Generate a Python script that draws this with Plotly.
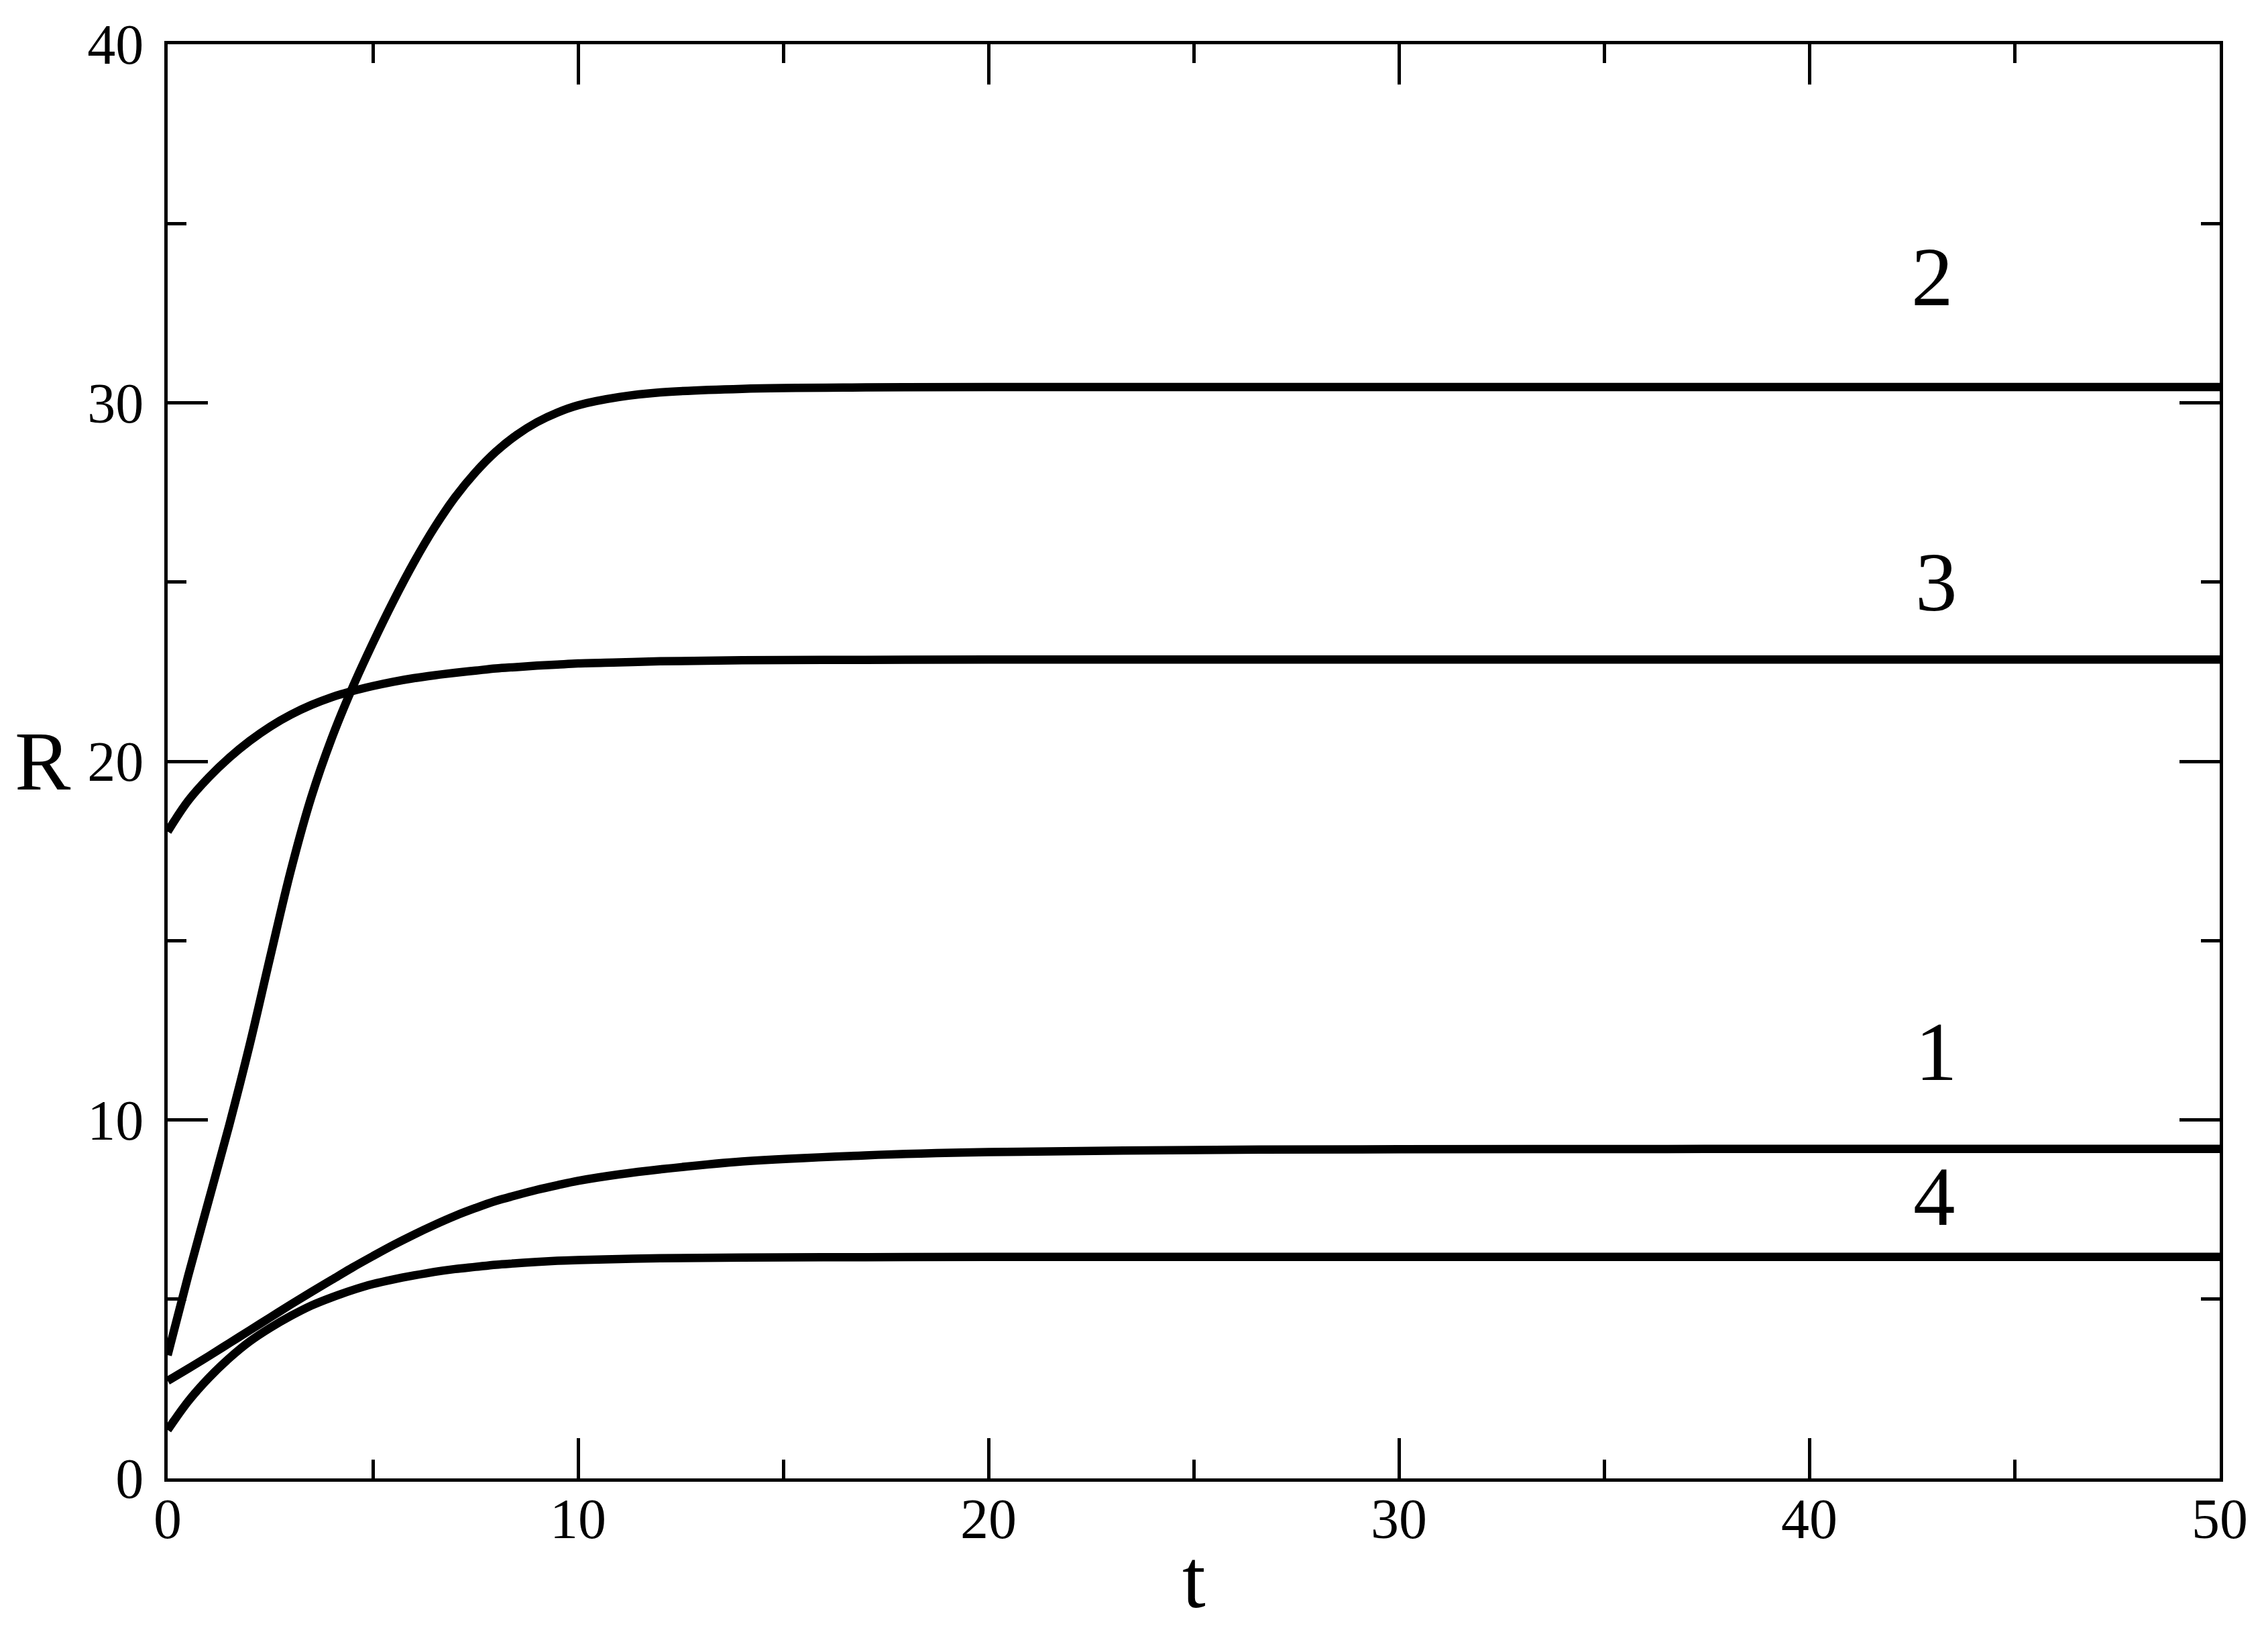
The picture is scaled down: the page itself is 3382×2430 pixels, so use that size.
import plotly.graph_objects as go

t = [0, 0.5, 1, 1.5, 2, 2.5, 3, 3.5, 4, 4.5, 5, 5.5, 6, 6.5, 7, 7.5, 8, 8.5,
     9, 9.5, 10, 11, 12, 14, 17, 20, 25, 30, 40, 50]
r1 = [2.72, 3.06, 3.41, 3.77, 4.13, 4.49, 4.85, 5.2, 5.54, 5.88, 6.2, 6.51, 6.8,
      7.07, 7.32, 7.54, 7.74, 7.9, 8.05, 8.18, 8.3, 8.48, 8.62, 8.84, 9.01, 9.1,
      9.16, 9.18, 9.19, 9.19]
r2 = [3.44, 5.65, 7.75, 9.85, 12.1, 14.55, 16.95, 19.0, 20.65, 22.05, 23.3, 24.47,
      25.55, 26.52, 27.36, 28.06, 28.64, 29.1, 29.46, 29.73, 29.93, 30.16, 30.29,
      30.39, 30.43, 30.44, 30.44, 30.44, 30.44, 30.44]
r3 = [18.04, 18.9, 19.55, 20.1, 20.57, 20.97, 21.3, 21.57, 21.79, 21.96, 22.1,
      22.22, 22.32, 22.4, 22.47, 22.53, 22.59, 22.63, 22.67, 22.7, 22.73, 22.76,
      22.79, 22.82, 22.83, 22.84, 22.84, 22.84, 22.84, 22.84]
r4 = [1.35, 2.15, 2.8, 3.35, 3.82, 4.2, 4.53, 4.82, 5.05, 5.25, 5.42, 5.55, 5.66,
      5.76, 5.84, 5.9, 5.96, 6.0, 6.04, 6.07, 6.09, 6.12, 6.14, 6.16, 6.17, 6.18,
      6.18, 6.18, 6.18, 6.18]
curve_labels = ["1", "2", "3", "4"]
x_ticks = [0, 10, 20, 30, 40, 50]
y_ticks = [0, 10, 20, 30, 40]

# where the curve numbers sit (data coords)
label_pos = {"1": (43.1, 11.9), "2": (43.0, 33.5), "3": (43.1, 25.0), "4": (43.05, 7.85)}

font_family = "Liberation Serif, Times New Roman, serif"

fig = go.Figure()
for name, r in zip(curve_labels, [r1, r2, r3, r4]):
    fig.add_trace(go.Scatter(
        x=t, y=r, mode="lines", name=name,
        line=dict(color="black", width=12.5, shape="spline", smoothing=1.0),
        showlegend=False,
    ))

for name in curve_labels:
    lx, ly = label_pos[name]
    fig.add_annotation(x=lx, y=ly, xref="x", yref="y", text=name, showarrow=False,
                       font=dict(size=125, color="black", family=font_family),
                       xanchor="center", yanchor="middle")

# axis titles as plain text (R is upright)
fig.add_annotation(x=-0.0608, y=0.5, xref="paper", yref="paper", text="R",
                   showarrow=False, xanchor="center", yanchor="middle",
                   font=dict(size=125, color="black", family=font_family))
fig.add_annotation(x=0.5, y=-0.0703, xref="paper", yref="paper", text="t",
                   showarrow=False, xanchor="center", yanchor="middle",
                   font=dict(size=125, color="black", family=font_family))

axis_style = dict(
    showline=True, linewidth=5, linecolor="black", mirror="ticks",
    ticks="inside", ticklen=60, tickwidth=5, tickcolor="black",
    showgrid=False, zeroline=False,
    tickfont=dict(size=84, color="black", family=font_family),
    minor=dict(ticks="inside", ticklen=28, tickwidth=5, tickcolor="black",
               dtick=5, showgrid=False),
)

fig.update_xaxes(range=[0, 50], tickvals=x_ticks, ticklabelstandoff=-17, **axis_style)
fig.update_yaxes(range=[0, 40], tickvals=y_ticks, ticklabelstandoff=14, **axis_style)

# page body adds an 8px margin, so the figure is 16px smaller than the window
fig.update_layout(
    width=3366, height=2414,
    margin=dict(l=242, r=64, t=54, b=218),
    plot_bgcolor="white", paper_bgcolor="white",
    font=dict(family=font_family, color="black"),
)

fig.write_html("out.html")
